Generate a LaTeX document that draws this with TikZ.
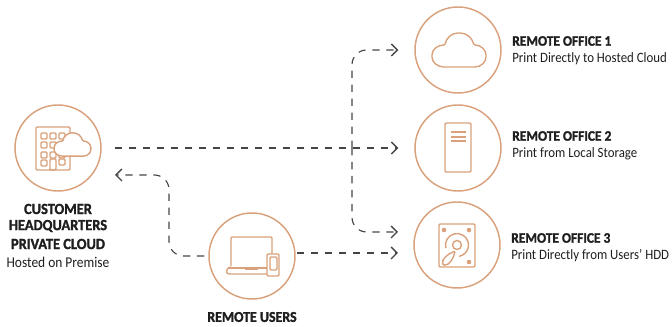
\documentclass[tikz,border=0pt]{standalone}
\usepackage{fontspec}
\setmainfont[FakeStretch=0.9,BoldFeatures={FakeStretch=0.93,FakeBold=1.6}]{Carlito}
\usetikzlibrary{arrows.meta}
\definecolor{ring}{HTML}{D9A27C}
\definecolor{ink}{HTML}{1E1E1E}
\definecolor{dashc}{HTML}{454545}
\newcommand{\cloudshape}{(-14,17) .. controls (-22,17) and (-27,12) .. (-27,6) .. controls (-27,-1) and (-21,-5) .. (-14,-5) .. controls (-13,-12) and (-7,-17) .. (0,-17) .. controls (8,-17) and (13,-12) .. (15,-5) .. controls (22,-5) and (27,0) .. (27,6) .. controls (27,12) and (22,17) .. (15,17) -- cycle}
\tikzset{
  x=0.75pt,y=-0.75pt,
  ringnode/.style={circle,draw=ring,line width=1.1pt,minimum size=64.5pt,inner sep=0pt,fill=white},
  icon/.style={draw=ring,line width=1.05pt,line join=round,rounded corners=0.8pt},
  link/.style={draw=dashc,line width=0.85pt,dash pattern=on 5.5pt off 5pt},
  tip/.style={-{Straight Barb[length=4.5pt,width=9pt,line width=1pt]}},
  head/.style={font=\bfseries\fontsize{10.8}{12}\selectfont,text=ink,inner sep=0pt},
  headl/.style={font=\bfseries\fontsize{11.6}{12}\selectfont,text=ink,inner sep=0pt},
  sub/.style={font=\fontsize{10.7}{12}\selectfont,text=ink,inner sep=0pt}
}
\begin{document}
\begin{tikzpicture}
\useasboundingbox (0,0) rectangle (672,327);
% nodes
\node[ringnode] (hq) at (58,148) {};
\node[ringnode] (users) at (252,256) {};
\node[ringnode] (o1) at (458,50) {};
\node[ringnode] (o2) at (458,148) {};
\node[ringnode] (o3) at (457,245) {};
\coordinate (j) at (352,148);
\coordinate (hqin) at (115,175);
\coordinate (o3a) at (414,232);
\coordinate (o3b) at (414,253);
\coordinate (uo3) at (297,253);
\coordinate (bend) at (169,256);
% connectors
\draw[link,tip,shorten <=13*0.75pt,shorten >=16*0.75pt] (hq.east) -- (o2.west);
\draw[link,tip,rounded corners=11pt,shorten >=16*0.75pt] (j) |- (o1.west);
\draw[link,tip,rounded corners=11pt,shorten >=16*0.75pt] (j) |- (o3a);
\draw[link,tip,shorten >=16*0.75pt] (uo3) -- (o3b);
\draw[link,tip,rounded corners=11pt,shorten <=3pt] (users.west) -- (bend) |- (hqin);
% cloud icon office 1
\begin{scope}[shift={(459,50)}]
\draw[icon] \cloudshape;
\end{scope}
% server
\draw[icon] (445,123) rectangle (471,172);
\foreach \yy in {132,137,141} \draw[icon] (451,\yy) -- (466,\yy);
% HDD
\draw[icon] (439,224) rectangle (475,267);
\fill[ring] (444,230) circle (2.3) (469,230) circle (2.3) (469,262) circle (2.3);
\draw[icon] (457,245) circle (4.5);
\draw[icon] (445.9,248) arc[start angle=165,end angle=440,radius=11.5];
\draw[icon] (443,265) .. controls (441,259) and (448,254) .. (455,251) .. controls (454,258) and (449,266) .. (443,265) -- cycle;
% HQ icon
\draw[icon] (36,127) rectangle (70,170);
\foreach \xx in {41,50,59} \foreach \yy in {133,142,152} \draw[icon] (\xx,\yy) rectangle +(6,6);
\draw[icon] (41,160) rectangle +(6,6);
\draw[icon] (50,159) rectangle (56,170);
\draw[icon] (59,159) rectangle +(6,6);
\begin{scope}[shift={(72.5,144.5)},scale=0.68]
\draw[icon,fill=white] \cloudshape;
\end{scope}
% laptop
\draw[icon] (231,266) -- (231,237) -- (272,237) -- (272,254);
\draw[icon] (231,267) -- (228,268) -- (226,272) -- (228,274) -- (267,274);
\draw[icon] (228,268) -- (267,268);
\draw[icon] (245,269.5) -- (258,269.5);
\draw[icon,fill=white] (267,254) rectangle (279,276);
\draw[icon] (270,257) rectangle (277,270);
% labels
\node[headl] (t1) at (58,209) {CUSTOMER};
\node[headl] (t2) at (58,226) {HEADQUARTERS};
\node[headl] (t3) at (58,244) {PRIVATE CLOUD};
\node[sub,font=\fontsize{11.2}{12}\selectfont] (t4) at (58,262) {Hosted on Premise};
\node[headl,font=\bfseries\fontsize{11.2}{12}\selectfont] (t5) at (252,317) {REMOTE USERS};
\node[head,anchor=west] (a1) at (512,41) {REMOTE OFFICE 1};
\node[sub,anchor=west] (a2) at (512,59) {Print Directly to Hosted Cloud};
\node[head,anchor=west] (b1) at (512,136) {REMOTE OFFICE 2};
\node[sub,anchor=west] (b2) at (512,154) {Print from Local Storage};
\node[head,anchor=west] (c1) at (511,238) {REMOTE OFFICE 3};
\node[sub,anchor=west] (c2) at (511,256) {Print Directly from Users' HDD};
\end{tikzpicture}
\end{document}
